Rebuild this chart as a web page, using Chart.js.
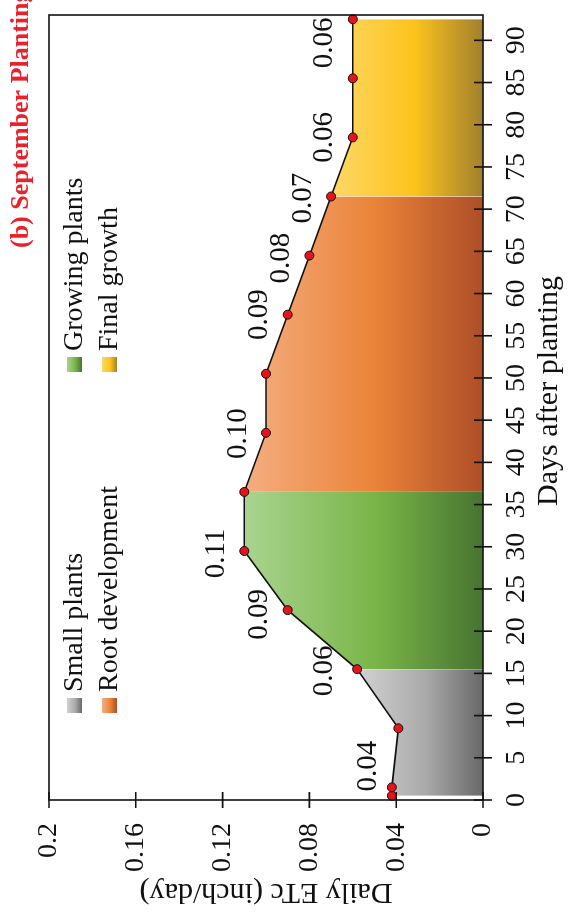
<!DOCTYPE html>
<html>
<head>
<meta charset="utf-8">
<script src="https://cdn.jsdelivr.net/npm/chart.js@4.4.1/dist/chart.umd.min.js"></script>
<style>
  html, body { margin: 0; padding: 0; background: #fff; overflow: hidden; }
  /* the chart is laid out landscape and turned a quarter turn counter-clockwise */
  #wrap { position: absolute; left: 0; top: 0; width: 912px; height: 569px;
          transform-origin: 0 0; transform: translateY(912px) rotate(-90deg); }
  canvas { display: block; }
</style>
</head>
<body>
<div id="wrap"><canvas id="chart" width="912" height="569"></canvas></div>
<script>
// Weekly crop water use, September planting
const days = [0.5, 1.5, 8.5, 15.5, 22.5, 29.5, 36.5, 43.5, 50.5, 57.5, 64.5, 71.5, 78.5, 85.5, 92.5];
const dailyEtc = [0.042, 0.042, 0.039, 0.058, 0.090, 0.110, 0.110, 0.100, 0.100, 0.090, 0.080, 0.070, 0.060, 0.060, 0.060];

// Growth stages (in time order) and the day each one starts / ends
const stageNames = ['Small plants', 'Growing plants', 'Root development', 'Final growth'];
const stageBounds = [0.5, 15.5, 36.5, 71.5, 92.5];
const stageColors = [
  ['#d2d2d2', '#a9a9a9', '#686868'],
  ['#a9d48f', '#79b548', '#477431'],
  ['#f5ae80', '#ea8339', '#ad4e27'],
  ['#fdd868', '#fcc31b', '#a1802e']
];
// legend is laid out column by column, two rows
const legendOrder = [0, 2, 1, 3];

// Weekly values written above the curve
const labelTexts = ['0.04', '0.06', '0.09', '0.11', '0.10', '0.09', '0.08', '0.07', '0.06', '0.06'];
const labelDays = [4, 15.3, 22, 29.2, 43.4, 57.5, 64.2, 71.3, 78.5, 89.7];

// Axis ticks
const dayTicks = [0, 5, 10, 15, 20, 25, 30, 35, 40, 45, 50, 55, 60, 65, 70, 75, 80, 85, 90];
const etcTicks = [0, 0.04, 0.08, 0.12, 0.16, 0.2];
const etcTickLabels = ['0', '0.04', '0.08', '0.12', '0.16', '0.2'];

const serif = '"Liberation Serif", "Times New Roman", serif';
const ink = '#111';

function stagePoints(s) {
  const pts = [];
  days.forEach((d, i) => {
    if (d >= stageBounds[s] && d <= stageBounds[s + 1]) pts.push({ x: d, y: dailyEtc[i] });
  });
  return pts;
}

function stageFill(s) {
  return (context) => {
    const chart = context.chart;
    if (!chart.chartArea) return stageColors[s][1];
    const y = chart.scales.y;
    const top = y.getPixelForValue(Math.max(...stagePoints(s).map(p => p.y)));
    const bottom = y.getPixelForValue(0);
    const g = chart.ctx.createLinearGradient(0, top, 0, bottom);
    g.addColorStop(0, stageColors[s][0]);
    g.addColorStop(0.55, stageColors[s][1]);
    g.addColorStop(1, stageColors[s][2]);
    return g;
  };
}

const datasets = [{
  label: 'Daily ETc',
  data: days.map((d, i) => ({ x: d, y: dailyEtc[i] })),
  borderColor: ink,
  borderWidth: 1.6,
  pointRadius: 4.5,
  pointBackgroundColor: '#e3141c',
  pointBorderColor: ink,
  pointBorderWidth: 1,
  fill: false,
  tension: 0,
  clip: false,
  order: 0
}];
stageNames.forEach((name, s) => {
  datasets.push({
    label: name,
    data: stagePoints(s),
    borderWidth: 0,
    pointRadius: 0,
    fill: 'origin',
    backgroundColor: stageFill(s),
    order: 1
  });
});

const decorations = {
  id: 'decorations',
  beforeDatasetsDraw(chart) {
    // weekly value labels sit under the shaded areas
    const { ctx, scales: { x, y } } = chart;
    ctx.save();
    ctx.font = '29px ' + serif;
    ctx.fillStyle = ink;
    ctx.textAlign = 'center';
    ctx.textBaseline = 'middle';
    labelTexts.forEach((t, i) => {
      ctx.fillText(t, x.getPixelForValue(labelDays[i]), y.getPixelForValue(parseFloat(t)) - 28);
    });
    ctx.restore();
  },
  afterDatasetsDraw(chart) {
    const { ctx, chartArea: a, scales: { x, y } } = chart;
    ctx.save();
    // frame
    ctx.strokeStyle = ink;
    ctx.lineWidth = 1.6;
    ctx.strokeRect(a.left, a.top, a.right - a.left, a.bottom - a.top);
    // tick marks crossing both axes
    ctx.beginPath();
    dayTicks.forEach(v => {
      const px = x.getPixelForValue(v);
      ctx.moveTo(px, a.bottom - 9);
      ctx.lineTo(px, a.bottom + 9);
    });
    etcTicks.forEach(v => {
      const py = y.getPixelForValue(v);
      ctx.moveTo(a.left - 8, py);
      ctx.lineTo(a.left + 8, py);
    });
    ctx.stroke();

    // legend, two rows inside the plot
    ctx.font = '28px ' + serif;
    ctx.textAlign = 'left';
    ctx.textBaseline = 'alphabetic';
    legendOrder.forEach((s, k) => {
      const col = Math.floor(k / 2), row = k % 2;
      const bx = a.left + 87 + col * 341;
      const by = a.top + 18 + row * 35;
      const g = ctx.createLinearGradient(0, by, 0, by + 15);
      g.addColorStop(0, stageColors[s][0]);
      g.addColorStop(0.55, stageColors[s][1]);
      g.addColorStop(1, stageColors[s][2]);
      ctx.fillStyle = g;
      ctx.fillRect(bx, by, 15, 15);
      ctx.fillStyle = ink;
      ctx.fillText(stageNames[s], bx + 21, by + 15);
    });

    // axis titles
    ctx.font = '30px ' + serif;
    ctx.textAlign = 'center';
    ctx.fillText('Days after planting', 521, 557);
    ctx.save();
    ctx.translate(28, (a.top + a.bottom) / 2);
    ctx.rotate(-Math.PI / 2);
    ctx.fillText('Daily ETc (inch/day)', 0, 0);
    ctx.restore();

    // panel title
    ctx.font = 'bold 26px ' + serif;
    ctx.fillStyle = '#e8212a';
    ctx.textAlign = 'left';
    ctx.fillText('(b) September Planting', 664, 28);
    ctx.restore();
  }
};

new Chart(document.getElementById('chart'), {
  type: 'line',
  data: { datasets },
  options: {
    responsive: false,
    animation: false,
    layout: { padding: { top: 49, right: 15, left: 0, bottom: 0 } },
    plugins: { legend: { display: false }, tooltip: { enabled: false } },
    scales: {
      x: {
        type: 'linear',
        min: 0,
        max: 93,
        afterBuildTicks: s => { s.ticks = dayTicks.map(v => ({ value: v })); },
        afterFit: s => { s.height = 86; },
        grid: { display: false, drawTicks: false },
        border: { display: false },
        ticks: { font: { family: serif, size: 28 }, color: ink, padding: 17, maxRotation: 0, autoSkip: false }
      },
      y: {
        type: 'linear',
        min: 0,
        max: 0.2,
        afterBuildTicks: s => { s.ticks = etcTicks.map(v => ({ value: v })); },
        afterFit: s => { s.width = 112; },
        grid: { display: false, drawTicks: false },
        border: { display: false },
        ticks: {
          font: { family: serif, size: 28 }, color: ink, padding: 23,
          callback: (v, i) => etcTickLabels[i]
        }
      }
    }
  },
  plugins: [decorations]
});
</script>
</body>
</html>
